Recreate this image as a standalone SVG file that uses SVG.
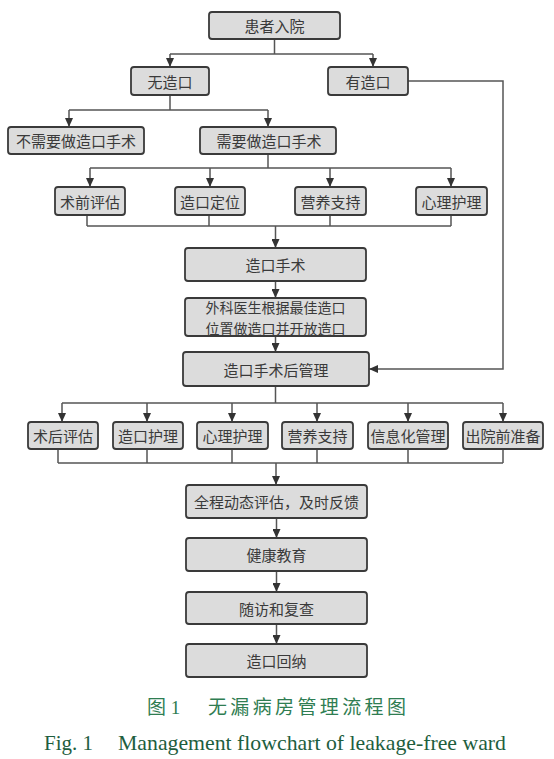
<svg xmlns="http://www.w3.org/2000/svg" width="554" height="759" viewBox="0 0 554 759">
<defs>
<marker id="ah" viewBox="0 0 10 10" refX="10" refY="5" markerWidth="9" markerHeight="8" orient="auto" markerUnits="userSpaceOnUse" preserveAspectRatio="none">
<path d="M0,0 L10,5 L0,10 z" fill="#333"/>
</marker>
</defs>
<style>
.box{fill:#dcdcdc;stroke:#3a3a3a;stroke-width:1.8}
.t{font-family:"Noto Sans CJK SC","Noto Sans",sans-serif;font-size:15px;fill:#3a3a3a;text-anchor:middle;dominant-baseline:central}
.t2{font-size:14px;dominant-baseline:auto}
.ln{fill:none;stroke:#555;stroke-width:1.5}
.ar{fill:none;stroke:#555;stroke-width:1.5;marker-end:url(#ah)}
.cap1{font-family:"Liberation Serif","Noto Sans CJK SC",serif;font-size:19px;fill:#2f7d52}
.cap2{font-family:"Liberation Serif",serif;font-size:21px;fill:#1e5e3e}
</style>
<rect x="0" y="0" width="554" height="759" fill="#ffffff"/>
<g id="connectors">
<path class="ln" d="M274.5 39 V54 M170 54 H373"/>
<path class="ar" d="M170 54 V67"/>
<path class="ar" d="M373 54 V67"/>
<path class="ln" d="M170 95 V110 M69 110 H268"/>
<path class="ar" d="M69 110 V127"/>
<path class="ar" d="M268 110 V127"/>
<path class="ln" d="M268 154 V168 M90 168 H451"/>
<path class="ar" d="M90 168 V187"/>
<path class="ar" d="M210 168 V187"/>
<path class="ar" d="M330 168 V187"/>
<path class="ar" d="M451 168 V187"/>
<path class="ln" d="M87 215 V226 M209 215 V226 M330 215 V226 M451 215 V226 M87 226 H451"/>
<path class="ar" d="M275.5 226 V248"/>
<path class="ar" d="M275.5 281 V298"/>
<path class="ar" d="M275.5 336 V352"/>
<path class="ar" d="M408 81 H503 V369 H369"/>
<path class="ln" d="M275.5 386 V403 M62 403 H503"/>
<path class="ar" d="M62 403 V422"/>
<path class="ar" d="M147 403 V422"/>
<path class="ar" d="M232 403 V422"/>
<path class="ar" d="M317 403 V422"/>
<path class="ar" d="M408 403 V422"/>
<path class="ar" d="M503 403 V422"/>
<path class="ln" d="M58 449 V463 M147 449 V463 M232 449 V463 M317 449 V463 M408 449 V463 M503 449 V463 M58 463 H503"/>
<path class="ar" d="M276 463 V485"/>
<path class="ar" d="M276.5 518 V538"/>
<path class="ar" d="M276.5 571 V592"/>
<path class="ar" d="M276.5 624 V644"/>
</g>
<g id="n1"><rect class="box" x="209" y="12" width="131" height="27" rx="3"/><text class="t" x="274.5" y="25.5">患者入院</text></g>
<g id="n2"><rect class="box" x="131" y="67" width="78" height="28" rx="3"/><text class="t" x="170" y="81">无造口</text></g>
<g id="n3"><rect class="box" x="328" y="67" width="80" height="28" rx="3"/><text class="t" x="368" y="81">有造口</text></g>
<g id="n4"><rect class="box" x="8" y="127" width="136" height="27" rx="3"/><text class="t" x="76" y="140.5">不需要做造口手术</text></g>
<g id="n5"><rect class="box" x="200" y="127" width="136" height="27" rx="3"/><text class="t" x="269" y="140.5">需要做造口手术</text></g>
<g id="n6"><rect class="box" x="55" y="187" width="70" height="28" rx="3"/><text class="t" x="90" y="201">术前评估</text></g>
<g id="n7"><rect class="box" x="175" y="187" width="70" height="28" rx="3"/><text class="t" x="210" y="201">造口定位</text></g>
<g id="n8"><rect class="box" x="295" y="187" width="71" height="28" rx="3"/><text class="t" x="330.5" y="201">营养支持</text></g>
<g id="n9"><rect class="box" x="416" y="187" width="71" height="28" rx="3"/><text class="t" x="451.5" y="201">心理护理</text></g>
<g id="n10"><rect class="box" x="185" y="248" width="181" height="33" rx="3"/><text class="t" x="275.5" y="264.5">造口手术</text></g>
<g id="n11"><rect class="box" x="185" y="298" width="181" height="38" rx="3"/><text class="t t2" x="275.5" y="313">外科医生根据最佳造口</text><text class="t t2" x="275.5" y="333.5">位置做造口并开放造口</text></g>
<g id="n12"><rect class="box" x="183" y="352" width="186" height="34" rx="3"/><text class="t" x="276" y="369">造口手术后管理</text></g>
<g id="n13"><rect class="box" x="28" y="422" width="70" height="27" rx="3"/><text class="t" x="63" y="435.5">术后评估</text></g>
<g id="n14"><rect class="box" x="113" y="422" width="70" height="27" rx="3"/><text class="t" x="148" y="435.5">造口护理</text></g>
<g id="n15"><rect class="box" x="197" y="422" width="71" height="27" rx="3"/><text class="t" x="232.5" y="435.5">心理护理</text></g>
<g id="n16"><rect class="box" x="282" y="422" width="71" height="27" rx="3"/><text class="t" x="317.5" y="435.5">营养支持</text></g>
<g id="n17"><rect class="box" x="368" y="422" width="80" height="27" rx="3"/><text class="t" x="408" y="435.5">信息化管理</text></g>
<g id="n18"><rect class="box" x="463" y="422" width="80" height="27" rx="3"/><text class="t" x="503" y="435.5">出院前准备</text></g>
<g id="n19"><rect class="box" x="186" y="485" width="181" height="33" rx="3"/><text class="t" x="276.5" y="501.5">全程动态评估，及时反馈</text></g>
<g id="n20"><rect class="box" x="186" y="538" width="181" height="33" rx="3"/><text class="t" x="276.5" y="554.5">健康教育</text></g>
<g id="n21"><rect class="box" x="186" y="592" width="181" height="32" rx="3"/><text class="t" x="276.5" y="608">随访和复查</text></g>
<g id="n22"><rect class="box" x="186" y="644" width="181" height="33" rx="3"/><text class="t" x="276.5" y="660.5">造口回纳</text></g>
<g id="caption">
<text class="cap1" x="147" y="714">图 1</text>
<text class="cap1" x="208" y="714" textLength="198" lengthAdjust="spacing">无漏病房管理流程图</text>
<text class="cap2" x="44" y="750">Fig. 1</text>
<text class="cap2" x="118" y="750" textLength="388" lengthAdjust="spacingAndGlyphs">Management flowchart of leakage-free ward</text>
</g>
</svg>
